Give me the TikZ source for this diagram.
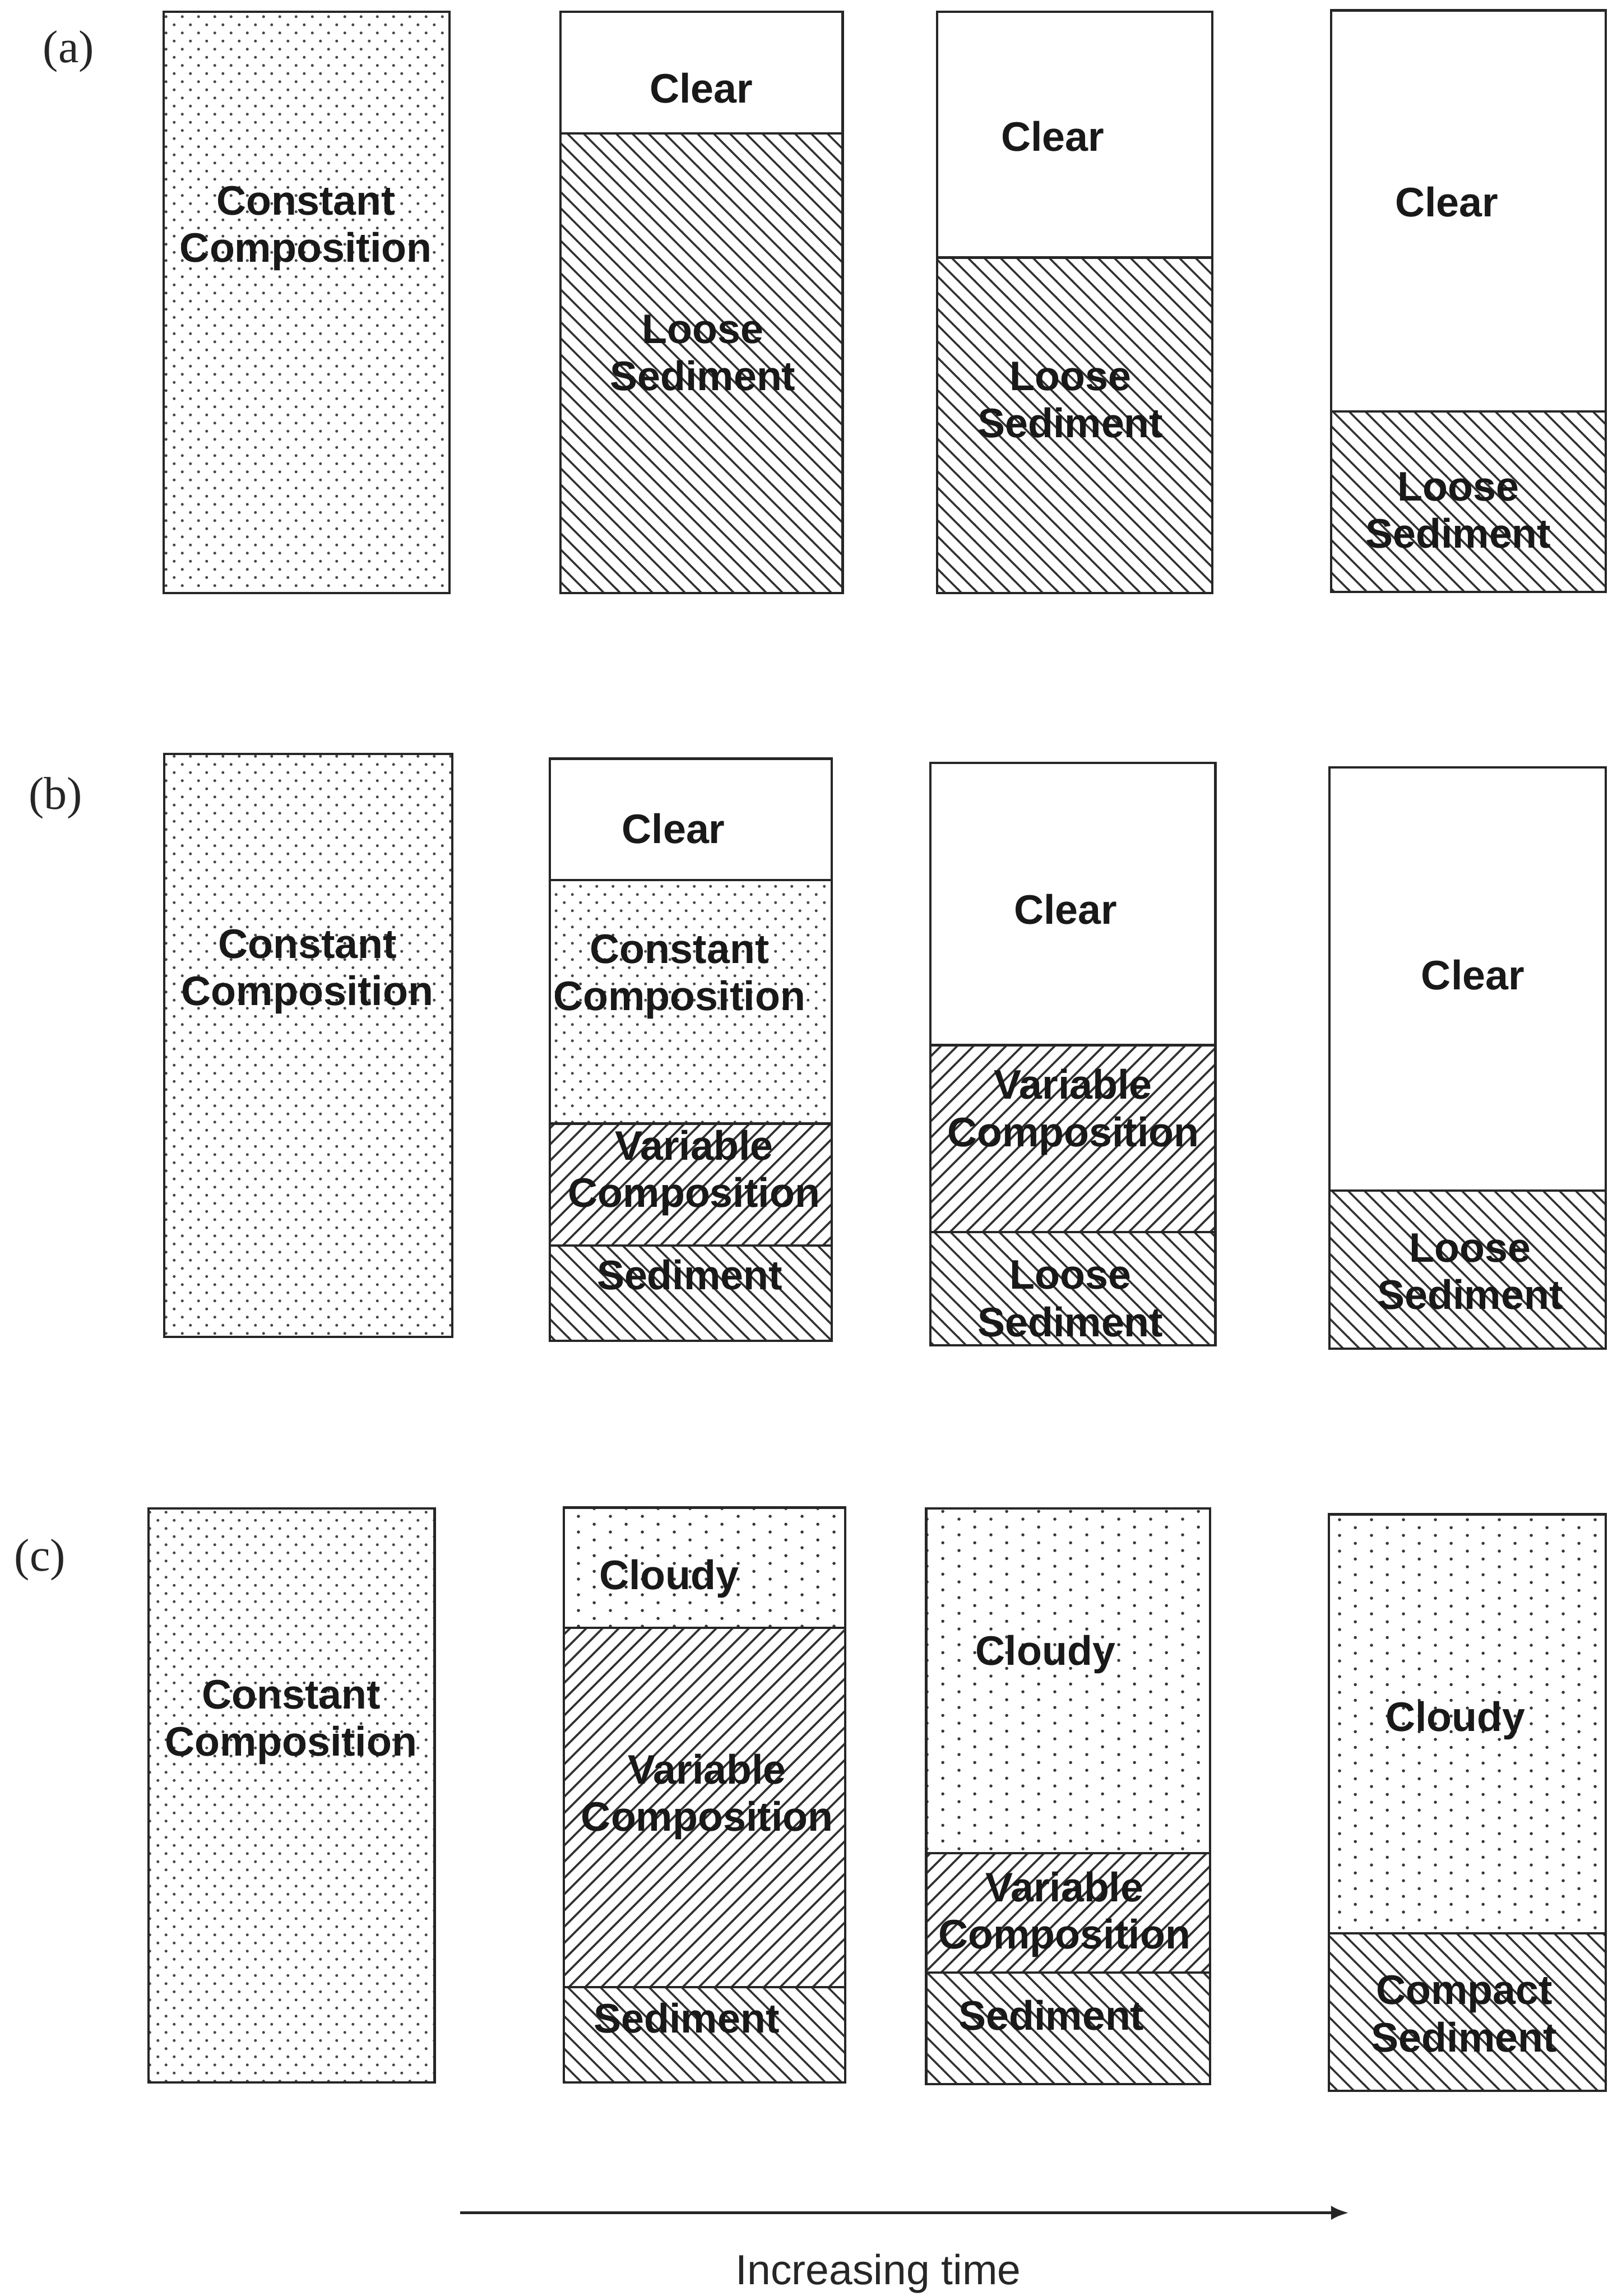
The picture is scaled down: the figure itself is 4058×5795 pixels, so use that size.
\documentclass[tikz,border=0pt]{standalone}
\usepackage{fontspec}
\setmainfont{Liberation Sans}
\newfontfamily\tagserif{Liberation Serif}
\usetikzlibrary{patterns.meta,arrows.meta}

\tikzdeclarepattern{
  name=densedots,
  bounding box={(0cm,0cm) and (0.41cm,0.41cm)},
  tile size={(0.41cm,0.41cm)},
  code={
    \fill (0.1025cm,0.1025cm) circle [radius=0.036cm];
    \fill (0.3075cm,0.3075cm) circle [radius=0.036cm];
  }
}
\tikzdeclarepattern{
  name=sparsedots,
  bounding box={(0cm,0cm) and (0.8cm,0.4cm)},
  tile size={(0.8cm,0.4cm)},
  code={
    \fill (0.2cm,0.1cm) circle [radius=0.04cm];
    \fill (0.6cm,0.3cm) circle [radius=0.04cm];
  }
}
\tikzdeclarepattern{
  name=nwlines,
  bounding box={(0cm,0cm) and (0.41cm,0.41cm)},
  tile size={(0.41cm,0.41cm)},
  code={
    \draw[line width=0.05cm] (-0.1cm,0.51cm) -- (0.51cm,-0.1cm);
    \draw[line width=0.05cm] (-0.1cm,0.1cm) -- (0.1cm,-0.1cm);
    \draw[line width=0.05cm] (0.31cm,0.51cm) -- (0.51cm,0.31cm);
  }
}
\tikzdeclarepattern{
  name=nelines,
  bounding box={(0cm,0cm) and (0.41cm,0.41cm)},
  tile size={(0.41cm,0.41cm)},
  code={
    \draw[line width=0.05cm] (-0.1cm,-0.1cm) -- (0.51cm,0.51cm);
    \draw[line width=0.05cm] (-0.1cm,0.31cm) -- (0.1cm,0.51cm);
    \draw[line width=0.05cm] (0.31cm,-0.1cm) -- (0.51cm,0.1cm);
  }
}

\newcommand\boxfont{\fontsize{29.6}{33.9}\selectfont\bfseries}

\tikzset{
  layer/.style={draw=black!85, line width=0.06cm},
  clearlayer/.style={layer, fill=white},
  constlayer/.style={layer, pattern=densedots, pattern color=black!72},
  cloudlayer/.style={layer, pattern=sparsedots, pattern color=black!78},
  sedlayer/.style={layer, pattern=nwlines, pattern color=black!80},
  varlayer/.style={layer, pattern=nelines, pattern color=black!80},
  lab/.style={font=\boxfont, align=center, inner sep=0pt, text=black!90},
  tag/.style={font=\tagserif\fontsize{33}{38}\selectfont, inner sep=0pt, text=black!85},
  timearrow/.style={line width=0.08cm, draw=black!85, -{Latex[length=0.45cm,width=0.36cm]}}
}

\begin{document}
\begin{tikzpicture}[x=0.01cm, y=-0.01cm]
\useasboundingbox (0,0) rectangle (4058,5795);
\fill[white] (0,0) rectangle (4058,5795);

% ---------------- row (a)
\node[tag] (taga) at (173,130) {(a)};
\draw[constlayer] (413,30) rectangle (1135,1497);
\node[lab] (a1c) at (772,576) {Constant\\Composition};

\draw[clearlayer] (1415,30) rectangle (2127,337);
\draw[sedlayer] (1415,337) rectangle (2127,1497);
\node[lab] (a2clear) at (1770,222) {Clear};
\node[lab] (a2sed) at (1774,891) {Loose\\Sediment};

\draw[clearlayer] (2365,30) rectangle (3060,650);
\draw[sedlayer] (2365,650) rectangle (3060,1497);
\node[lab] (a3clear) at (2657,344) {Clear};
\node[lab] (a3sed) at (2702,1009) {Loose\\Sediment};

\draw[clearlayer] (3360,26) rectangle (4053,1038);
\draw[sedlayer] (3360,1038) rectangle (4053,1494);
\node[lab] (a4clear) at (3652,509) {Clear};
\node[lab] (a4sed) at (3681,1288) {Loose\\Sediment};

% ---------------- row (b)
\node[tag] (tagb) at (140,2014) {(b)};
\draw[constlayer] (414,1903) rectangle (1142,3374);
\node[lab] (b1c) at (776,2452) {Constant\\Composition};

\draw[clearlayer] (1388,1915) rectangle (2100,2221);
\draw[constlayer] (1388,2221) rectangle (2100,2836);
\draw[varlayer] (1388,2836) rectangle (2100,3144);
\draw[sedlayer] (1388,3144) rectangle (2100,3384);
\node[lab] (b2clear) at (1700,2092) {Clear};
\node[lab] (b2const) at (1715,2465) {Constant\\Composition};
\node[lab] (b2var) at (1752,2960) {Variable\\Composition};
\node[lab] (b2sed) at (1741,3217) {Sediment};

\draw[clearlayer] (2348,1926) rectangle (3068,2638);
\draw[varlayer] (2348,2638) rectangle (3068,3110);
\draw[sedlayer] (2348,3110) rectangle (3068,3395);
\node[lab] (b3clear) at (2690,2295) {Clear};
\node[lab] (b3var) at (2709,2807) {Variable\\Composition};
\node[lab] (b3sed) at (2702,3278) {Loose\\Sediment};

\draw[clearlayer] (3356,1937) rectangle (4053,3005);
\draw[sedlayer] (3356,3005) rectangle (4053,3404);
\node[lab] (b4clear) at (3718,2461) {Clear};
\node[lab] (b4sed) at (3711,3210) {Loose\\Sediment};

% ---------------- row (c)
\node[tag] (tagc) at (101,3937) {(c)};
\draw[constlayer] (375,3807) rectangle (1097,5256);
\node[lab] (c1c) at (735,4347) {Constant\\Composition};

\draw[cloudlayer] (1423,3805) rectangle (2133,4108);
\draw[varlayer] (1423,4108) rectangle (2133,5015);
\draw[sedlayer] (1423,5015) rectangle (2133,5256);
\node[lab] (c2cloud) at (1689,3985) {Cloudy};
\node[lab] (c2var) at (1785,4535) {Variable\\Composition};
\node[lab] (c2sed) at (1733,5093) {Sediment};

\draw[cloudlayer] (2338,3807) rectangle (3054,4677);
\draw[varlayer] (2338,4677) rectangle (3054,4979);
\draw[sedlayer] (2338,4979) rectangle (3054,5260);
\node[lab] (c3cloud) at (2639,4176) {Cloudy};
\node[lab] (c3var) at (2687,4832) {Variable\\Composition};
\node[lab] (c3sed) at (2654,5087) {Sediment};

\draw[cloudlayer] (3354,3822) rectangle (4053,4880);
\draw[sedlayer] (3354,4880) rectangle (4053,5277);
\node[lab] (c4cloud) at (3674,4343) {Cloudy};
\node[lab] (c4sed) at (3696,5083) {Compact\\Sediment};

% ---------------- time arrow
\coordinate (tstart) at (1162,5585);
\coordinate (tend) at (3405,5585);
\draw[timearrow] (tstart) -- (tend);
\node[font=\fontsize{30.2}{36}\selectfont, inner sep=0pt, text=black!85] (timelab) at (2217,5738) {Increasing time};
\end{tikzpicture}
\end{document}
